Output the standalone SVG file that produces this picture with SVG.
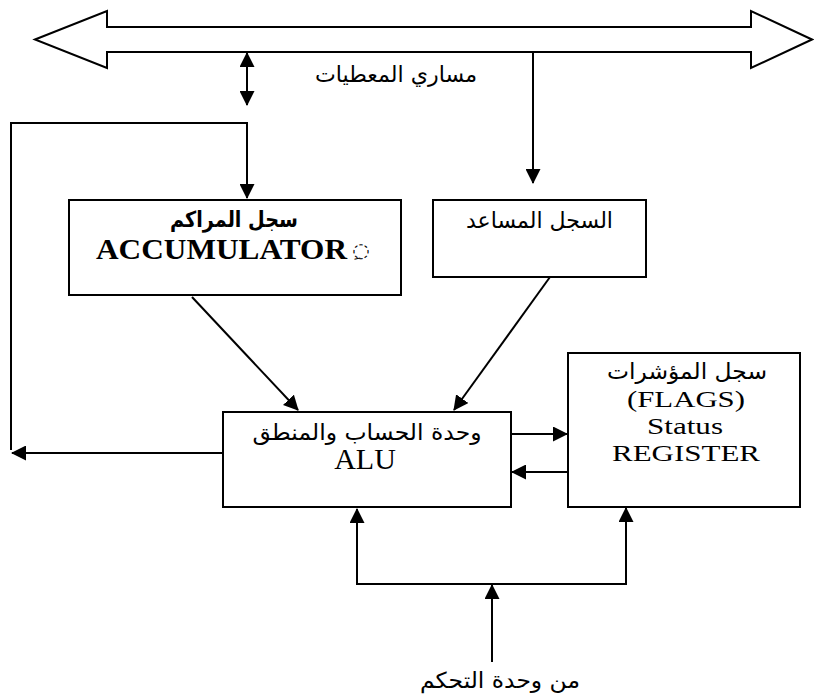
<svg xmlns="http://www.w3.org/2000/svg" width="814" height="696" viewBox="0 0 814 696">
<style>
.box{fill:#fff;stroke:#000;stroke-width:2}
.ln{fill:none;stroke:#000;stroke-width:2}
.ar{font-family:"DejaVu Sans","Noto Sans",sans-serif;font-size:22px;fill:#000}
.lat{font-family:"Liberation Serif","Times New Roman",serif;font-size:30px;fill:#000}
.fl{font-size:24px}
</style>
<defs>
<marker id="ah" markerUnits="userSpaceOnUse" markerWidth="15" markerHeight="15" viewBox="0 0 15 15" refX="14" refY="7.5" orient="auto-start-reverse">
<path d="M0,0 L15,7.5 L0,15 Z" fill="#000"/>
</marker>
</defs>
<rect width="814" height="696" fill="#fff"/>
<g id="bus">
<polygon class="box" points="35,39.5 107,11 107,27 751,27 751,11 812,39.5 751,68 751,52 107,52 107,68"/>
<text class="ar" x="396" y="82" text-anchor="middle" textLength="162" lengthAdjust="spacingAndGlyphs">مساري المعطيات</text>
</g>
<g id="connectors">
<line class="ln" x1="247" y1="53" x2="247" y2="105" marker-start="url(#ah)" marker-end="url(#ah)"/>
<line class="ln" x1="533" y1="52" x2="533" y2="183" marker-end="url(#ah)"/>
<polyline class="ln" points="11,450 11,123 247,123 247,198" marker-end="url(#ah)"/>
<line class="ln" x1="223" y1="453" x2="12" y2="453" marker-end="url(#ah)"/>
<line class="ln" x1="192" y1="297" x2="298" y2="410" marker-end="url(#ah)"/>
<line class="ln" x1="550" y1="277" x2="454" y2="410" marker-end="url(#ah)"/>
<line class="ln" x1="511" y1="434" x2="567" y2="434" marker-end="url(#ah)"/>
<line class="ln" x1="568" y1="472" x2="512" y2="472" marker-end="url(#ah)"/>
<line class="ln" x1="492" y1="662" x2="492" y2="585" marker-end="url(#ah)"/>
<line class="ln" x1="356" y1="584" x2="627" y2="584"/>
<line class="ln" x1="357" y1="584" x2="357" y2="509" marker-end="url(#ah)"/>
<line class="ln" x1="626" y1="584" x2="626" y2="508" marker-end="url(#ah)"/>
</g>
<g id="accumulator">
<rect class="box" x="69" y="200" width="332" height="95"/>
<text class="ar" x="234" y="227" text-anchor="middle" font-weight="bold" font-size="24" textLength="128" lengthAdjust="spacingAndGlyphs">سجل المراكم</text>
<text class="lat" x="96" y="259" font-weight="bold" textLength="251" lengthAdjust="spacingAndGlyphs">ACCUMULATOR</text>
<text x="361" y="257" text-anchor="middle" font-family="DejaVu Sans,sans-serif" font-size="20" fill="#000">◌ِ</text>
</g>
<g id="aux-register">
<rect class="box" x="433" y="200" width="213" height="77"/>
<text class="ar" x="539.5" y="228" text-anchor="middle" textLength="147" lengthAdjust="spacingAndGlyphs">السجل المساعد</text>
</g>
<g id="alu">
<rect class="box" x="223" y="412" width="288" height="95"/>
<text class="ar" x="367" y="440" text-anchor="middle" textLength="229" lengthAdjust="spacingAndGlyphs">وحدة الحساب والمنطق</text>
<text class="lat" x="365" y="469" text-anchor="middle">ALU</text>
</g>
<g id="flags">
<rect class="box" x="568" y="353" width="232" height="154"/>
<text class="ar" x="687" y="379" text-anchor="middle" textLength="160" lengthAdjust="spacingAndGlyphs">سجل المؤشرات</text>
<text class="lat fl" x="686" y="407" text-anchor="middle" textLength="118" lengthAdjust="spacingAndGlyphs">(FLAGS)</text>
<text class="lat fl" x="685" y="434" text-anchor="middle" textLength="76" lengthAdjust="spacingAndGlyphs">Status</text>
<text class="lat fl" x="686" y="461" text-anchor="middle" textLength="148" lengthAdjust="spacingAndGlyphs">REGISTER</text>
</g>
<g id="control-label">
<text class="ar" x="500" y="688" text-anchor="middle" textLength="160" lengthAdjust="spacingAndGlyphs">من وحدة التحكم</text>
</g>
</svg>
